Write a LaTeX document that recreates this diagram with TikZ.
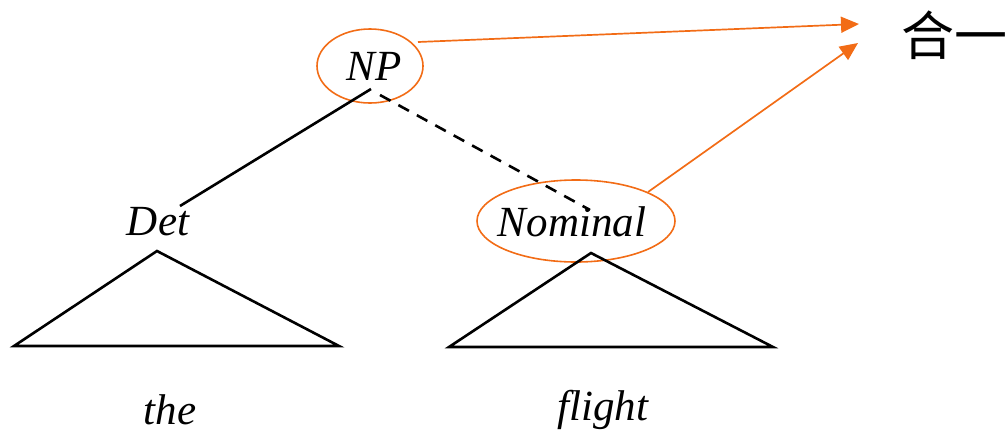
\documentclass[tikz,border=0pt]{standalone}
\usepackage{fontspec}
\setmainfont{Liberation Serif}
\newfontfamily\cjk{Noto Sans CJK SC}
\usetikzlibrary{arrows.meta,shapes.geometric}
\definecolor{hiorange}{RGB}{242,108,22}
\begin{document}
\begin{tikzpicture}[x=1pt,y=-1pt,
  lbl/.style={font=\fontsize{43}{43}\selectfont\itshape, inner sep=0pt},
  word/.style={font=\fontsize{43}{43}\selectfont\itshape, inner sep=0pt},
  ring/.style={draw=hiorange, line width=1.6pt, ellipse, inner sep=0pt},
  edge/.style={line width=2.6pt, black},
  oarrow/.style={draw=hiorange, line width=1.7pt, -{Triangle[length=18pt,width=16pt]}},
  tri/.style={line width=2.6pt, black, line join=miter}]
\useasboundingbox (0,0) rectangle (1005,432);
% labels
\node[lbl] (np) at (374,66) {NP};
\node[lbl] (det) at (158,222) {Det};
\node[lbl] (nom) at (572,222) {Nominal};
\node[word] (the) at (170,410) {the};
\node[word] (flight) at (603,410) {flight};
\node[inner sep=0pt, anchor=west, font=\cjk\fontsize{53}{53}\selectfont] (unify) at (901,35) {合一};
% rings
\node[ring, minimum width=106pt, minimum height=74pt] (npring) at (370,66) {};
\node[ring, minimum width=198pt, minimum height=82pt] (nomring) at (576,221) {};
% tree edges
\coordinate (npfoot) at (371,89);
\coordinate (npfootb) at (380,95);
\coordinate (detTop) at (180,206);
\coordinate (nomTop) at (590,210);
\draw[edge] (npfoot) -- (detTop);
\draw[edge, dash pattern=on 12pt off 9pt] (npfootb) -- (nomTop);
% triangles
\coordinate (t1a) at (157,251);
\coordinate (t1l) at (14,346);
\coordinate (t1r) at (339,346);
\coordinate (t2a) at (591,253);
\coordinate (t2l) at (449,347);
\coordinate (t2r) at (773,347);
\draw[tri] (t1a) -- (t1l) -- (t1r) -- cycle;
\draw[tri] (t2a) -- (t2l) -- (t2r) -- cycle;
% orange arrows
\coordinate (npout) at (418,42);
\coordinate (tgt1) at (859,24);
\coordinate (nomout) at (648,192);
\coordinate (tgt2) at (858,43);
\draw[oarrow] (npout) -- (tgt1);
\draw[oarrow] (nomout) -- (tgt2);
\end{tikzpicture}
\end{document}
